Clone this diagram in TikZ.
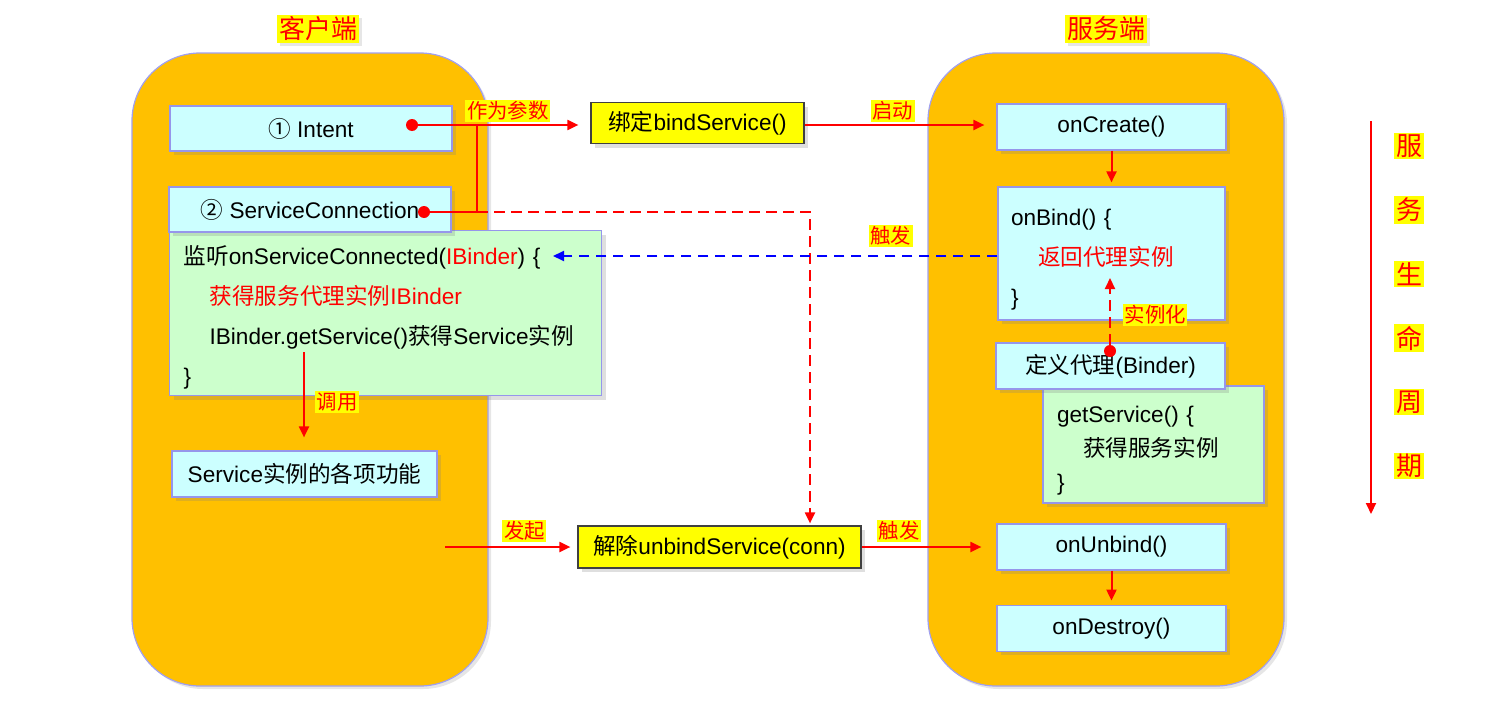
\documentclass[tikz,border=0pt]{standalone}
\usepackage{fontspec}
\setmainfont{Liberation Sans}
\newfontfamily\zhfont{Noto Sans CJK SC}
\usepackage{tikz}
\usetikzlibrary{arrows.meta, positioning, shadows}
\definecolor{sidegold}{RGB}{255, 192, 0}
\definecolor{sideedge}{RGB}{160, 160, 240}
\definecolor{boxcyan}{RGB}{204, 255, 255}
\definecolor{boxgreen}{RGB}{204, 255, 204}
\definecolor{boxedge}{RGB}{150, 150, 235}
\definecolor{callyellow}{RGB}{255, 255, 0}
\newcommand{\zh}[1]{{\zhfont #1}}
\newcommand{\bodysize}{\fontsize{11.3pt}{20pt}\selectfont}
\newcommand{\labelsize}{\fontsize{10.2pt}{12pt}\selectfont}
\newcommand{\titlesize}{\fontsize{13pt}{15pt}\selectfont}
\newcommand{\topline}{\rule{0pt}{14pt}}

\begin{document}
\begin{tikzpicture}[
    x=0.5pt, y=-0.5pt,
    side/.style={rectangle, rounded corners=34pt, draw=sideedge, fill=sidegold, line width=0.6pt, minimum width=178pt, minimum height=316.5pt, drop shadow={opacity=0.2, shadow xshift=1.5pt, shadow yshift=-1.5pt}},
    cbox/.style={rectangle, draw=boxedge, fill=#1, line width=0.6pt, font=\bodysize, inner sep=2pt, drop shadow={opacity=0.25, shadow xshift=2pt, shadow yshift=-2pt}},
    cbox/.default=boxcyan,
    callbox/.style={rectangle, draw=black!75, fill=callyellow, line width=0.6pt, font=\bodysize, inner sep=2pt, drop shadow={opacity=0.25, shadow xshift=2pt, shadow yshift=-2pt}},
    codebox/.style={cbox=#1, align=left, inner xsep=7pt},
    lbl/.style={fill=callyellow, text=red, inner sep=0.8pt, font=\labelsize},
    title/.style={fill=callyellow, text=red, inner sep=1pt, font=\titlesize, drop shadow={opacity=0.2, shadow xshift=1.5pt, shadow yshift=-1.5pt}},
    dot/.style={circle, fill=red, inner sep=0pt, minimum size=6pt},
    redline/.style={draw=red, line width=1pt},
    reddash/.style={draw=red, line width=1pt, dash pattern=on 5.5pt off 3pt},
    bluedash/.style={draw=blue, line width=1pt, dash pattern=on 5pt off 3.5pt},
    tip/.style={-{Triangle[length=5.5pt, width=5pt]}}
]
\useasboundingbox (0,0) rectangle (1511,712);

% Client and server panels
\node[side] (client) at (310,369.5) {};
\node[side] (server) at (1106,369.5) {};
\node[title] (cliTitle) at (318,29) {\zh{客户端}};
\node[title] (srvTitle) at (1106,29) {\zh{服务端}};

% Client side
\node[cbox, minimum width=141pt, minimum height=22.5pt] (intent) at (311,128.5) {\zh{①} Intent};
\node[codebox=boxgreen, anchor=north west, text width=202pt, minimum height=82.5pt] (listener) at (169,230) {\topline\zh{监听}onServiceConnected(\textcolor{red}{IBinder}) \{\\
\hspace*{13pt}\textcolor{red}{\zh{获得服务代理实例}IBinder}\\
\hspace*{13pt}IBinder.getService()\zh{获得}Service\zh{实例}\\
\}};
\node[cbox, minimum width=141pt, minimum height=22.5pt] (sconn) at (310,209.5) {\zh{②} ServiceConnection};
\node[cbox, minimum width=132.5pt, minimum height=23pt] (svcfunc) at (304.5,474) {Service\zh{实例的各项功能}};

% Calls in the middle
\node[callbox, minimum width=106.5pt, minimum height=20.5pt] (bind) at (697.5,123) {\zh{绑定}bindService()};
\node[callbox, minimum width=141.5pt, minimum height=21pt] (unbind) at (719.5,547) {\zh{解除}unbindService(conn)};

% Server side
\node[cbox, minimum width=114.5pt, minimum height=23pt] (onCreate) at (1111.5,127) {onCreate()};
\node[codebox=boxcyan, text width=100.5pt, minimum height=66.5pt, inner xsep=6.5pt] (onBind) at (1111.5,253.5) {\topline onBind() \{\\
\hspace*{13.5pt}\textcolor{red}{\zh{返回代理实例}}\\
\}};
\node[codebox=boxgreen, text width=96.5pt, minimum height=58.5pt, font=\fontsize{11.3pt}{17pt}\selectfont] (getsvc) at (1153.5,444.5) {\topline getService() \{\\
\hspace*{13pt}\zh{获得服务实例}\\
\}};
\node[cbox, minimum width=114.5pt, minimum height=23pt] (binder) at (1110.5,366) {\zh{定义代理}(Binder)};
\node[cbox, minimum width=114.5pt, minimum height=23pt] (onUnbind) at (1111.5,547) {onUnbind()};
\node[cbox, minimum width=114.5pt, minimum height=23pt, below=17pt of onUnbind] (onDestroy) {onDestroy()};

% Dots and joints
\node[dot] (dotI) at (412,125) {};
\node[dot] (dotSC) at (424,212) {};
\node[dot] (dotB) at (1110,351) {};
\coordinate (jn) at (477,212);
\coordinate (turn) at (810,212);
\coordinate (lsnIn) at (553,256);
\coordinate (retIn) at (1110,278);
\coordinate (callTop) at (304,352);
\coordinate (unStart) at (445,547);

% Intent + connection as parameters
\draw[redline] (dotSC) -- (jn) -- (jn |- dotI);
\draw[redline, tip, shorten >=6pt] (dotI) -- (dotI -| bind.west) node[lbl, pos=0.52, above=1pt] (lblParam) {\zh{作为参数}};
\draw[reddash, tip, shorten >=1pt] (jn) -- (turn) -- (turn |- unbind.north);

% Binding flow
\draw[redline, tip, shorten >=6pt] (dotI -| bind.east) -- (dotI -| onCreate.west) node[lbl, pos=0.46, above=1pt] (lblStart) {\zh{启动}};
\draw[redline, tip, shorten >=2pt] (onCreate) -- (onBind);
\draw[bluedash, tip] (onBind.west |- lsnIn) -- (lsnIn) node[lbl, pos=0.24, above=4pt] (lblFire) {\zh{触发}};
\draw[reddash, tip] (dotB) -- (retIn) node[lbl, pos=0.45, right=6pt] (lblInst) {\zh{实例化}};
\draw[redline, tip, shorten >=6.5pt] (callTop) -- (callTop |- svcfunc.north) node[lbl, pos=0.51, right=5pt] (lblCall) {\zh{调用}};

% Unbinding flow
\draw[redline, tip, shorten >=3.5pt] (unStart) -- (unbind.west) node[lbl, pos=0.6, above=2pt] (lblInit) {\zh{发起}};
\draw[redline, tip, shorten >=7.5pt] (unbind) -- (onUnbind) node[lbl, pos=0.28, above=2pt] (lblFire2) {\zh{触发}};
\draw[redline, tip, shorten >=2pt] (onUnbind) -- (onDestroy);

% Service lifecycle
\coordinate (lcTop) at (1371,121);
\coordinate (lcBot) at (1371,514);
\draw[redline, tip] (lcTop) -- (lcBot);
\foreach \c [count=\i] in {服,务,生,命,周,期}
    \node[lbl, font=\titlesize] (lc\i) at (1409,82+64*\i) {\zh{\c}};

\end{tikzpicture}
\end{document}
